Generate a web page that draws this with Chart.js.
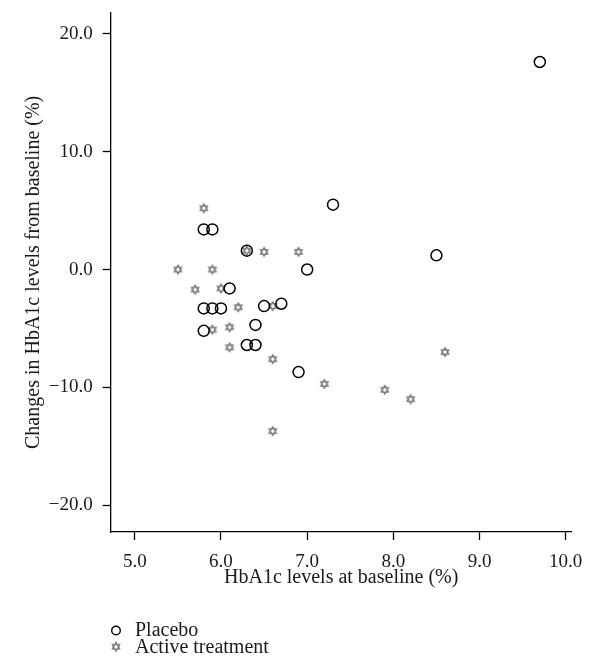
<!DOCTYPE html>
<html><head><meta charset="utf-8">
<script src="https://cdn.jsdelivr.net/npm/chart.js@4/dist/chart.umd.min.js"></script>
<style>html,body{margin:0;padding:0;background:#fff}</style>
</head><body>
<canvas id="c" width="592" height="665"></canvas>
<script>
// ---- data ----
const seriesLabels = ['Placebo', 'Active treatment'];
const placeboX = [9.7, 8.5, 7.3, 5.8, 5.9, 6.3, 7.0, 6.1, 5.8, 5.9, 6.0, 6.5, 6.7, 5.8, 6.4, 6.3, 6.4, 6.9];
const placeboY = [17.6, 1.2, 5.5, 3.4, 3.4, 1.6, 0.0, -1.6, -3.3, -3.3, -3.3, -3.1, -2.9, -5.2, -4.7, -6.4, -6.4, -8.7];
const activeX = [5.8, 6.3, 6.5, 6.9, 5.5, 5.9, 5.7, 6.0, 6.2, 6.6, 5.9, 6.1, 6.1, 6.6, 7.2, 7.9, 8.2, 8.6, 6.6];
const activeY = [5.2, 1.6, 1.5, 1.5, 0.0, 0.0, -1.7, -1.6, -3.2, -3.1, -5.1, -4.9, -6.6, -7.6, -9.7, -10.2, -11.0, -7.0, -13.7];
const xTicks = [5, 6, 7, 8, 9, 10];
const yTicks = [-20, -10, 0, 10, 20];
const xTitle = 'HbA1c levels at baseline (%)';
const yTitle = 'Changes in HbA1c levels from baseline (%)';

// ---- styles ----
const FONT = 'Liberation Serif';
const TXT = '#1a1a1a';
const toPts = (xs, ys) => xs.map((x, i) => ({x: x, y: ys[i]}));
const fmt = v => (v < 0 ? '\u2212' + Math.abs(v).toFixed(1) : v.toFixed(1));

function makeStar() {
  const c = document.createElement('canvas');
  c.width = 12; c.height = 12;
  const g = c.getContext('2d');
  g.strokeStyle = '#6e6e6e';
  g.lineWidth = 1.1;
  const cx = 6, cy = 6, r = 4.4;
  for (const off of [-Math.PI / 2, Math.PI / 2]) {
    g.beginPath();
    for (let i = 0; i < 3; i++) {
      const a = off + i * 2 * Math.PI / 3;
      const px = cx + r * Math.cos(a), py = cy + r * Math.sin(a);
      if (i) g.lineTo(px, py); else g.moveTo(px, py);
    }
    g.closePath();
    g.stroke();
  }
  return c;
}
const star = makeStar();

const legendPlugin = {
  id: 'customLegend',
  afterDraw(chart) {
    const ctx = chart.ctx;
    ctx.save();
    ctx.strokeStyle = '#000';
    ctx.lineWidth = 1.4;
    ctx.beginPath();
    ctx.arc(116, 630.5, 4.3, 0, Math.PI * 2);
    ctx.stroke();
    ctx.drawImage(star, 116 - 6, 646.7 - 6);
    ctx.fillStyle = TXT;
    ctx.font = '20px "' + FONT + '"';
    ctx.textAlign = 'left';
    ctx.textBaseline = 'alphabetic';
    ctx.fillText(chart.data.datasets[0].label, 135, 635.5);
    ctx.fillText(chart.data.datasets[1].label, 135, 653);
    ctx.restore();
  }
};

const axisCommon = {
  type: 'linear',
  grid: {drawOnChartArea: false, drawTicks: true, tickLength: 8, tickColor: '#000', tickWidth: 1.3},
  border: {display: true, color: '#000', width: 1.3},
};

new Chart(document.getElementById('c'), {
  type: 'scatter',
  data: {
    datasets: [
      {label: seriesLabels[0], data: toPts(placeboX, placeboY), pointStyle: 'circle', pointRadius: 5.5,
       borderColor: '#000', backgroundColor: 'rgba(0,0,0,0)', borderWidth: 1.5, pointHoverRadius: 5.5},
      {label: seriesLabels[1], data: toPts(activeX, activeY), pointStyle: star, pointRadius: 5,
       borderColor: '#6e6e6e', backgroundColor: 'rgba(0,0,0,0)', borderWidth: 1}
    ]
  },
  options: {
    responsive: false,
    animation: false,
    events: [],
    layout: {padding: {top: 12.7, right: 20.3, bottom: 65, left: 0}},
    plugins: {legend: {display: false}, tooltip: {enabled: false}},
    scales: {
      x: Object.assign({}, axisCommon, {
        position: 'bottom',
        min: 4.72, max: 10.07,
        afterBuildTicks: s => { s.ticks = xTicks.map(v => ({value: v})); },
        afterFit: s => { s.height = 68; s.paddingLeft = 0; s.paddingRight = 0; },
        ticks: {font: {family: FONT, size: 19}, color: TXT, padding: 11, maxRotation: 0, callback: v => fmt(v)},
        title: {display: true, text: xTitle, font: {family: FONT, size: 20}, color: TXT, padding: {top: 0, bottom: 10.5}}
      }),
      y: Object.assign({}, axisCommon, {
        position: 'left',
        min: -22.26, max: 21.78,
        afterBuildTicks: s => { s.ticks = yTicks.map(v => ({value: v})); },
        afterFit: s => { s.width = 110.7; s.paddingTop = 0; s.paddingBottom = 0; },
        ticks: {font: {family: FONT, size: 19}, color: TXT, padding: 10, callback: v => fmt(v)},
        title: {display: true, text: yTitle, font: {family: FONT, size: 20}, color: TXT, padding: {top: 22, bottom: 0}}
      })
    }
  },
  plugins: [legendPlugin]
});
</script>
</body></html>
